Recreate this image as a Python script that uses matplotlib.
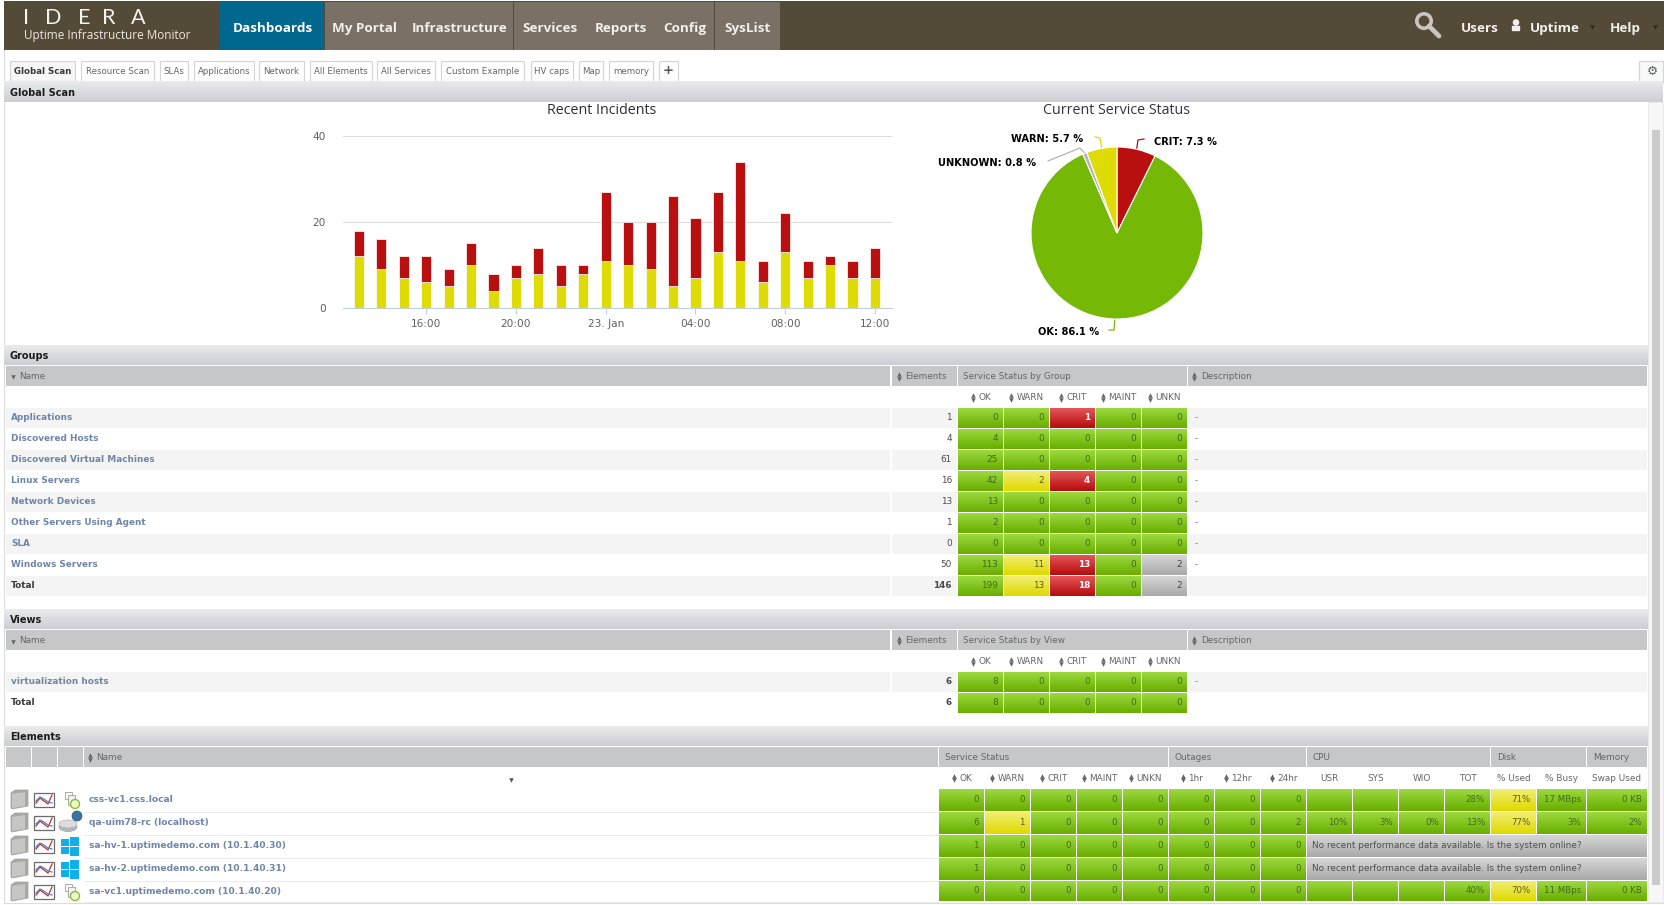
import numpy as np
import matplotlib
matplotlib.use("Agg")
import matplotlib.pyplot as plt
from matplotlib.colors import to_rgb
from matplotlib.patches import Rectangle, Polygon, Circle, Ellipse

W, H = 1665, 905

# Recent Incidents
hours = [13, 14, 15, 16, 17, 18, 19, 20, 21, 22, 23, 24, 25, 26, 27, 28, 29, 30, 31, 32, 33, 34, 35, 36]
warn_counts = [12, 9, 7, 6, 5, 10, 4, 7, 8, 5, 8, 11, 10, 9, 5, 7, 13, 11, 6, 13, 7, 10, 7, 7]
crit_counts = [6, 7, 5, 6, 4, 5, 4, 3, 6, 5, 2, 16, 10, 11, 21, 14, 14, 23, 5, 9, 4, 2, 4, 7]
hour_ticks = [16, 20, 24, 28, 32, 36]
hour_labels = ["16:00", "20:00", "23. Jan", "04:00", "08:00", "12:00"]

# Current Service Status
pie_names = ["CRIT", "OK", "UNKNOWN", "WARN"]
pie_values = [7.3, 86.1, 0.8, 5.7]

# top navigation
nav_tabs = ["Dashboards", "My Portal", "Infrastructure", "Services", "Reports", "Config", "SysList"]
sub_tabs = ["Global Scan", "Resource Scan", "SLAs", "Applications", "Network", "All Elements",
            "All Services", "Custom Example", "HV caps", "Map", "memory", "+"]

# Groups table
group_names = ["Applications", "Discovered Hosts", "Discovered Virtual Machines", "Linux Servers",
               "Network Devices", "Other Servers Using Agent", "SLA", "Windows Servers", "Total"]
group_elements = [1, 4, 61, 16, 13, 1, 0, 50, 146]
group_ok = [0, 4, 25, 42, 13, 2, 0, 113, 199]
group_warn = [0, 0, 0, 2, 0, 0, 0, 11, 13]
group_crit = [1, 0, 0, 4, 0, 0, 0, 13, 18]
group_maint = [0, 0, 0, 0, 0, 0, 0, 0, 0]
group_unkn = [0, 0, 0, 0, 0, 0, 0, 2, 2]

# Views table
view_names = ["virtualization hosts", "Total"]
view_elements = [6, 6]
view_ok = [8, 8]
view_warn = [0, 0]
view_crit = [0, 0]
view_maint = [0, 0]
view_unkn = [0, 0]

# Elements table
element_names = ["css-vc1.css.local", "qa-uim78-rc (localhost)", "sa-hv-1.uptimedemo.com (10.1.40.30)",
                 "sa-hv-2.uptimedemo.com (10.1.40.31)", "sa-vc1.uptimedemo.com (10.1.40.20)"]
element_icons = ["page", "disk", "windows", "windows", "page"]
element_ok = [0, 6, 1, 1, 0]
element_warn = [0, 1, 0, 0, 0]
element_crit = [0, 0, 0, 0, 0]
element_maint = [0, 0, 0, 0, 0]
element_unkn = [0, 0, 0, 0, 0]
outage_1hr = [0, 0, 0, 0, 0]
outage_12hr = [0, 0, 0, 0, 0]
outage_24hr = [0, 2, 0, 0, 0]
cpu_usr = ["", "10%", None, None, ""]
cpu_sys = ["", "3%", None, None, ""]
cpu_wio = ["", "0%", None, None, ""]
cpu_tot = ["28%", "13%", None, None, "40%"]
disk_used = ["71%", "77%", None, None, "70%"]
disk_busy = ["17 MBps", "3%", None, None, "11 MBps"]
swap_used = ["0 KB", "2%", None, None, "0 KB"]
no_data_text = "No recent performance data available. Is the system online?"

GREEN = ("#9bd93f", "#69ae00")
YELLOW = ("#f1ee72", "#dfd900")
RED = ("#e35558", "#b70c0c")
GREY = ("#d6d6d6", "#a9a9a9")
BAND = ("#e9ebed", "#cbcfd3")
HEAD_BG = "#c6c7c9"
HEAD_TXT = "#666666"
LINK = "#6f86a8"
CELL_TXT = {GREEN: "#43691b", YELLOW: "#5f5c18", RED: "white", GREY: "#484848"}

TXT = 6.4
plt.rcParams["font.family"] = ["DejaVu Sans"]

fig = plt.figure(figsize=(W / 100, H / 100), dpi=100, facecolor="white")
page = fig.add_axes([0, 0, 1, 1])
page.set_xlim(0, W)
page.set_ylim(H, 0)
page.axis("off")
renderer = fig.canvas.get_renderer()


def grad(x0, y0, x1, y1, colors, zorder=1):
    top, bottom = np.array(to_rgb(colors[0])), np.array(to_rgb(colors[1]))
    mix = np.linspace(0, 1, 24)[:, None, None]
    img = top[None, None, :] * (1 - mix) + bottom[None, None, :] * mix
    page.imshow(img, extent=(x0, x1, y1, y0), aspect="auto", interpolation="bilinear", zorder=zorder)


def box(x0, y0, x1, y1, color, edge="none", lw=0, zorder=1):
    page.add_patch(Rectangle((x0, y0), x1 - x0, y1 - y0, facecolor=color, edgecolor=edge,
                             linewidth=lw, zorder=zorder))


def label(x, y, s, size=TXT, color="#555555", ha="left", weight="normal", va="center", **kw):
    return page.text(x, y, s, fontsize=size, color=color, ha=ha, va=va, fontweight=weight,
                     zorder=5, **kw)


def nav_label(x, s, color="#f2f0ea"):
    # center_baseline so words with descenders stay on the same line as the others
    label(x, 27, s, size=9.7, color=color, ha="center", va="center_baseline",
          family="Open Sans", weight="bold")


def sort_icon(x, y):
    page.plot([x], [y - 2.2], marker="^", ms=3.3, color="#666666", mew=0, zorder=5)
    page.plot([x], [y + 2.2], marker="v", ms=3.3, color="#666666", mew=0, zorder=5)


def sort_label(cx, y, s):
    t = label(cx + 4, y, s, color=HEAD_TXT, ha="center")
    sort_icon(t.get_window_extent(renderer).x0 - 5.5, y)


def status_cell(x0, y0, x1, y1, value, colors, size=TXT):
    grad(x0, y0, x1, y1, colors, zorder=2)
    bold = colors == RED
    if value != "":
        label(x1 - 5, (y0 + y1) / 2 - 0.7, str(value), size=size, color=CELL_TXT[colors], ha="right",
              weight="bold" if bold else "normal")


def band(y0, y1, title, right=1648, nudge=0.5):
    grad(4, y0, right, y1, BAND)
    label(10, (y0 + y1) / 2 + nudge, title, size=7, color="#1c1c1c", weight="bold")


# ---- top bar
box(4, 1, W, 50.5, "#544a38")
for letter, lx in zip("IDERA", [26, 53, 84, 109, 138]):
    label(lx, 17.5, letter, size=15.5, color="#f4f2ec", ha="center", family="Lato")
label(24, 35.5, "Uptime Infrastructure Monitor", size=8.5, color="#ece9e2", family="Open Sans")

tab_edges = [220, 325, 404.5, 514, 586.5, 655.5, 715, 781]
for i, name in enumerate(nav_tabs):
    box(tab_edges[i], 2.5, tab_edges[i + 1] - 0.8, 50.5, "#00688f" if i == 0 else "#7a7166")
    nav_label((tab_edges[i] + tab_edges[i + 1]) / 2, name, color="white" if i == 0 else "#f2f0ea")

page.add_patch(Circle((1424, 21), 7.2, fill=False, edgecolor="#c9c6bf", lw=2.6, zorder=5))
page.plot([1429, 1439], [26, 36], color="#c9c6bf", lw=3.4, solid_capstyle="round", zorder=5)
nav_label(1480, "Users")
page.add_patch(Circle((1516, 22.5), 2.6, color="#f2f0ea", zorder=5))
page.add_patch(Rectangle((1512.5, 26.5), 7, 3.5, color="#f2f0ea", zorder=5))
nav_label(1555, "Uptime")
nav_label(1625, "Help")
page.plot([1592, 1655], [27, 27], ls="none", marker="v", ms=3.5, color="#2f2a20", mew=0, zorder=5)

# ---- dashboard tabs
sub_edges = [(10, 75), (81, 154), (160, 188), (194, 254), (259, 304), (310, 372), (377, 435),
             (441, 524), (531, 573), (579, 603), (609, 653), (659, 678)]
for i, (name, (x0, x1)) in enumerate(zip(sub_tabs, sub_edges)):
    box(x0, 61, x1, 81, "#f6f6f6" if i == 0 else "white", edge="#d2d4d6", lw=0.8)
    if name == "+":
        label((x0 + x1) / 2, 70.5, name, size=9.5, color="#555555", ha="center", weight="bold")
    else:
        label((x0 + x1) / 2, 71.5, name, size=6.2, color="#3a3a3a" if i == 0 else "#666666", ha="center",
              weight="bold" if i == 0 else "normal")
box(1639, 61, 1663, 82, "#f8f8f8", edge="#d2d4d6", lw=0.8)
label(1652, 71, "\u2699", size=9, color="#59606b", ha="center", weight="bold")

# ---- page frame and scrollbar
page.plot([4.5, 4.5], [50, 902], color="#dcdcdc", lw=0.8, zorder=0.5)
page.plot([4.5, 1663], [902.5, 902.5], color="#dcdcdc", lw=0.8, zorder=0.5)
box(1648, 102, 1663, 902, "#f7f7f7", edge="#e6e6e6", lw=0.6, zorder=0.6)
box(1652, 130, 1660, 885, "#cacaca", zorder=0.7)

band(81, 102, "Global Scan", right=1663, nudge=1.2)
band(345, 365, "Groups")
band(609, 629, "Views")
band(726, 746, "Elements")

# ---- Recent Incidents chart
label(602, 111, "Recent Incidents", size=10.3, color="#2e2e2e", ha="center", family="Open Sans")
ax_bar = fig.add_axes([343 / W, 1 - 308 / H, (892 - 343) / W, 172 / H])
ax_bar.patch.set_alpha(0)
ax_bar.bar(hours, warn_counts, width=0.45, color="#dfdb05", edgecolor="white", linewidth=0.5, zorder=3)
ax_bar.bar(hours, crit_counts, width=0.45, bottom=warn_counts, color="#b90f0f", edgecolor="white",
           linewidth=0.5, zorder=3)
ax_bar.set_xlim(12.29, 36.76)
ax_bar.set_ylim(0, 40)
ax_bar.set_yticks([0, 20, 40])
ax_bar.set_xticks(hour_ticks)
ax_bar.set_xticklabels(hour_labels)
ax_bar.tick_params(axis="y", length=0, pad=12.5, labelsize=7.6, labelcolor="#606060")
ax_bar.tick_params(axis="x", length=4, width=0.8, color="#c0d0e0", pad=3.8, labelsize=7.6, labelcolor="#606060")
ax_bar.grid(axis="y", color="#dcdcdc", linewidth=0.8)
ax_bar.set_axisbelow(True)
for side in ["top", "left", "right"]:
    ax_bar.spines[side].set_visible(False)
ax_bar.spines["bottom"].set_color("#c0d0e0")

# ---- Current Service Status pie
PIE_X, PIE_Y, PIE_R = 1117, 233, 86
label(1117, 111, "Current Service Status", size=10.3, color="#333340", ha="center", family="Open Sans")
ax_pie = fig.add_axes([(PIE_X - PIE_R) / W, 1 - (PIE_Y + PIE_R) / H, 2 * PIE_R / W, 2 * PIE_R / H])
ax_pie.patch.set_alpha(0)
pie_colors = ["#b90f0f", "#75b806", "#b4b4b4", "#dfdb05"]
ax_pie.pie(pie_values, colors=pie_colors, startangle=90, counterclock=False,
           wedgeprops={"edgecolor": "white", "linewidth": 0.8, "clip_on": False})
ax_pie.set_xlim(-1, 1)
ax_pie.set_ylim(-1, 1)

# elbow points and text anchor of each data label, keyed by slice name
pie_label_spots = {
    "CRIT": ([(1138, 140), (1144, 139)], 1154, 142, "left"),
    "OK": ([(1114, 330), (1109, 330)], 1099, 332, "right"),
    "UNKNOWN": ([(1080, 148), (1048, 161)], 1036, 163, "right"),
    "WARN": ([(1100, 138), (1095, 137)], 1083, 139, "right"),
}
cumulative = np.cumsum([0] + pie_values)
for i, name in enumerate(pie_names):
    angle = np.deg2rad((cumulative[i] + pie_values[i] / 2) / cumulative[-1] * 360)
    start = (PIE_X + PIE_R * np.sin(angle), PIE_Y - PIE_R * np.cos(angle))
    elbows, tx, ty, ha = pie_label_spots[name]
    pts = [start] + elbows
    page.plot([p[0] for p in pts], [p[1] for p in pts], color=pie_colors[i], lw=0.9, zorder=3)
    label(tx, ty, f"{name}: {pie_values[i]} %", size=7.1, color="black", ha=ha, weight="bold")


# ---- Groups and Views
STATUS_COLS = [(958, 1003), (1004, 1049), (1050, 1095), (1096, 1141), (1142, 1187)]
STATUS_HEAD = ["OK", "WARN", "CRIT", "MAINT", "UNKN"]


def summary_table(top, title, names, elements, ok, warn, crit, maint, unkn, bold_elements):
    # header row, then the sort labels, then one line per group
    box(6, top, 890.5, top + 20, HEAD_BG)
    box(892, top, 957, top + 20, HEAD_BG)
    box(958, top, 1187, top + 20, HEAD_BG)
    box(1188, top, 1647, top + 20, HEAD_BG)
    mid = top + 10.5
    page.plot([13], [mid + 1], marker="v", ms=3.3, color="#666666", mew=0, zorder=5)
    label(19, mid, "Name", color=HEAD_TXT)
    sort_icon(899, mid)
    label(905, mid, "Elements", color=HEAD_TXT)
    label(963, mid, title, color=HEAD_TXT)
    sort_icon(1194, mid)
    label(1201, mid, "Description", color=HEAD_TXT)
    for (x0, x1), head in zip(STATUS_COLS, STATUS_HEAD):
        sort_label((x0 + x1) / 2, top + 31.5, head)

    row0 = top + 42
    for i, name in enumerate(names):
        y0 = row0 + 21 * i
        y1 = y0 + 20
        cy = (y0 + y1) / 2 - 0.7
        shade = "#f4f4f4" if i % 2 == 0 else "white"
        box(6, y0, 890.5, y1, shade)
        box(892, y0, 957, y1, shade)
        box(1188, y0, 1647, y1, shade)
        is_total = name == "Total"
        label(11, cy, name, color="#3a3a3a" if is_total else LINK, weight="bold", size=6.4)
        label(952, cy, str(elements[i]), ha="right", color="#4a4a4a",
              weight="bold" if is_total or bold_elements else "normal")
        if not is_total:
            label(1195, cy, "-", color="#777777")
        values = [ok[i], warn[i], crit[i], maint[i], unkn[i]]
        alert = [GREEN, YELLOW, RED, GREEN, GREY]
        for (x0, x1), v, c in zip(STATUS_COLS, values, alert):
            status_cell(x0, y0, x1, y1, v, c if v > 0 else GREEN)


summary_table(366, "Service Status by Group", group_names, group_elements, group_ok, group_warn,
              group_crit, group_maint, group_unkn, False)
summary_table(630, "Service Status by View", view_names, view_elements, view_ok, view_warn,
              view_crit, view_maint, view_unkn, True)


# ---- Elements
def draw_folder(y):
    page.add_patch(Polygon([(11, y - 7), (15, y - 10), (28, y - 10), (28, y + 6), (12, y + 9), (11, y + 8)],
                           facecolor="#a9a9a5", edgecolor="#a0a09c", lw=0.5, zorder=4))
    page.add_patch(Polygon([(12, y - 6), (25, y - 8), (25, y + 6), (12, y + 8)],
                           facecolor="#c6c6c2", edgecolor="none", zorder=4))


def draw_graph(y):
    box(34, y - 7, 54, y + 7, "white", edge="#6b6b6b", lw=0.9, zorder=4)
    page.plot([36, 40, 44, 48, 52], [y + 3, y - 2, y + 1, y + 4, y - 5], color="#b8332f", lw=0.9, zorder=5)
    page.plot([36, 40, 44, 48, 52], [y + 1, y - 3, y - 1, y + 2, y + 3], color="#5c7fb8", lw=0.9, zorder=5)


def draw_type_icon(kind, y):
    if kind == "windows":
        for dx, dy, w, h in [(61, -7, 8, 7), (70, -9, 9, 9), (61, 1, 8, 7), (70, 1, 9, 9)]:
            box(dx, y + dy, dx + w, y + dy + h, "#12aee8", zorder=4)
    elif kind == "disk":
        page.add_patch(Ellipse((68, y + 4), 18, 9, facecolor="#b4b6b8", edgecolor="#a0a2a4", lw=0.5, zorder=4))
        page.add_patch(Ellipse((68, y + 1), 18, 8, facecolor="#dcdddf", edgecolor="#b0b2b4", lw=0.5, zorder=4))
        page.add_patch(Circle((77, y - 7), 5, facecolor="#3d6fa8", edgecolor="#2f5c60", lw=0.5, zorder=5))
    else:
        box(65, y - 8, 72, y - 1, "white", edge="#aaaaaa", lw=0.7, zorder=4)
        box(68, y - 5, 75, y + 5, "#f2f2f2", edge="#aaaaaa", lw=0.7, zorder=4)
        page.add_patch(Circle((75, y + 4), 4.5, facecolor="#eff5cf", edgecolor="#8ebc2a", lw=1, zorder=5))


TOP = 747
for x0, x1 in [(6, 31), (32, 57), (58, 83), (84, 938)]:
    box(x0, TOP, x1, TOP + 20, HEAD_BG)
sort_icon(90, TOP + 10.5)
label(96, TOP + 10.5, "Name", color=HEAD_TXT)
page.plot([511], [780], marker="v", ms=3.3, color="#555555", mew=0, zorder=5)

el_edges = [(939, 984), (985, 1030), (1031, 1076), (1077, 1122), (1123, 1168),
            (1169, 1214), (1215, 1260), (1261, 1306),
            (1307, 1352), (1353, 1398), (1399, 1444), (1445, 1490),
            (1491, 1536), (1537, 1586), (1587, 1647)]
el_heads = STATUS_HEAD + ["1hr", "12hr", "24hr", "USR", "SYS", "WIO", "TOT", "% Used", "% Busy", "Swap Used"]
for pos, ((x0, x1), head) in enumerate(zip(el_edges, el_heads)):
    if pos < 8:
        sort_label((x0 + x1) / 2, 778, head)
    else:
        label((x0 + x1) / 2, 778, head, color=HEAD_TXT, ha="center")

for x0, x1, title in [(939, 1168, "Service Status"), (1169, 1306, "Outages"), (1307, 1490, "CPU"),
                      (1491, 1586, "Disk"), (1587, 1647, "Memory")]:
    box(x0, TOP, x1, TOP + 20, HEAD_BG)
    label(x0 + 6, TOP + 10.5, title, color=HEAD_TXT)

metric_cols = [cpu_usr, cpu_sys, cpu_wio, cpu_tot, disk_used, disk_busy, swap_used]
for i, name in enumerate(element_names):
    y0 = 789 + 23 * i
    y1 = min(y0 + 22, 901)
    cy = y0 + 11
    draw_folder(cy)
    draw_graph(cy)
    draw_type_icon(element_icons[i], cy)
    label(89, cy - 0.8, name, color=LINK, weight="bold", size=6.55)
    page.plot([84, 938], [y1 + 0.5, y1 + 0.5], color="#ececec", lw=0.7, zorder=1)

    counts = [element_ok[i], element_warn[i], element_crit[i], element_maint[i], element_unkn[i],
              outage_1hr[i], outage_12hr[i], outage_24hr[i]]
    for j, v in enumerate(counts):
        x0, x1 = el_edges[j]
        status_cell(x0, y0, x1, y1, v, YELLOW if j == 1 and v > 0 else GREEN, size=6.2)

    if cpu_tot[i] is None:
        grad(1307, y0, 1647, y1, GREY, zorder=2)
        label(1312, cy - 0.8, no_data_text, color="#4f4f4f", size=6.4)
    else:
        for j, col in enumerate(metric_cols):
            x0, x1 = el_edges[8 + j]
            status_cell(x0, y0, x1, y1, col[i], YELLOW if col is disk_used else GREEN, size=6.2)

page.set_xlim(0, W)
page.set_ylim(H, 0)
fig.savefig("out.png", dpi=100)
